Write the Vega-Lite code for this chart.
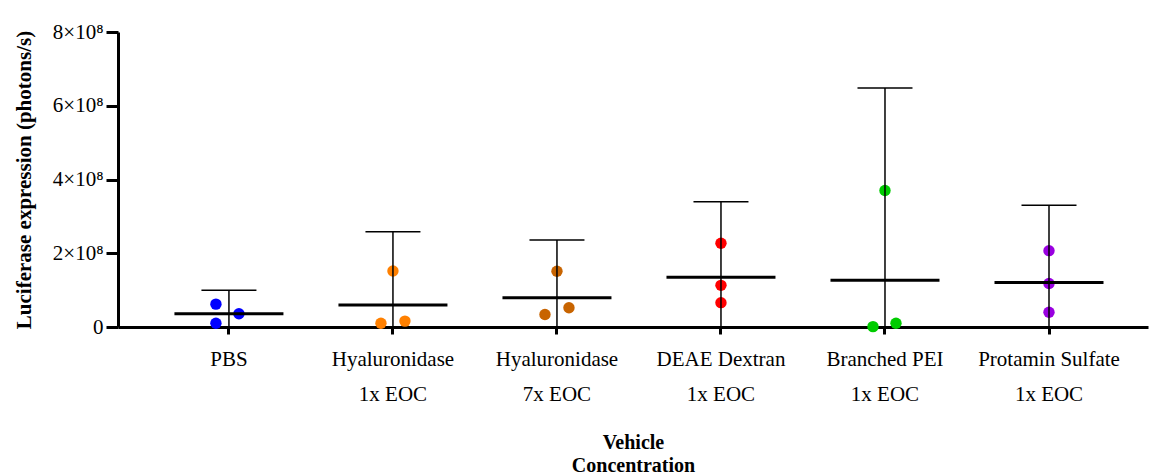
{
  "$schema": "https://vega.github.io/schema/vega-lite/v6.json",
  "width": 1030,
  "height": 295,
  "autosize": "none",
  "padding": {"left": 118, "top": 32, "right": 2, "bottom": 148},
  "background": "white",
  "config": {
    "view": {"stroke": null},
    "font": "Liberation Serif"
  },
  "datasets": {
    "points": [
      {"group": "PBS", "value": 62000000, "jitter": -13},
      {"group": "PBS", "value": 10000000, "jitter": -13},
      {"group": "PBS", "value": 36000000, "jitter": 10},
      {"group": "Hyaluronidase|1x EOC", "value": 10000000, "jitter": -12},
      {"group": "Hyaluronidase|1x EOC", "value": 16000000, "jitter": 12},
      {"group": "Hyaluronidase|1x EOC", "value": 152000000, "jitter": 0},
      {"group": "Hyaluronidase|7x EOC", "value": 151000000, "jitter": 0},
      {"group": "Hyaluronidase|7x EOC", "value": 34000000, "jitter": -12},
      {"group": "Hyaluronidase|7x EOC", "value": 52000000, "jitter": 12},
      {"group": "DEAE Dextran|1x EOC", "value": 227000000, "jitter": 0},
      {"group": "DEAE Dextran|1x EOC", "value": 113000000, "jitter": 0},
      {"group": "DEAE Dextran|1x EOC", "value": 66000000, "jitter": 0},
      {"group": "Branched PEI|1x EOC", "value": 370000000, "jitter": 0},
      {"group": "Branched PEI|1x EOC", "value": 1000000, "jitter": -12},
      {"group": "Branched PEI|1x EOC", "value": 10000000, "jitter": 11},
      {"group": "Protamin Sulfate|1x EOC", "value": 207000000, "jitter": 0},
      {"group": "Protamin Sulfate|1x EOC", "value": 118000000, "jitter": 0},
      {"group": "Protamin Sulfate|1x EOC", "value": 40000000, "jitter": 0}
    ],
    "summary": [
      {"group": "PBS", "mean": 36000000, "upper": 100000000, "lower": -28000000},
      {"group": "Hyaluronidase|1x EOC", "mean": 60000000, "upper": 258000000, "lower": -138000000},
      {"group": "Hyaluronidase|7x EOC", "mean": 79500000, "upper": 236000000, "lower": -77000000},
      {"group": "DEAE Dextran|1x EOC", "mean": 135000000, "upper": 340000000, "lower": -70000000},
      {"group": "Branched PEI|1x EOC", "mean": 127000000, "upper": 648000000, "lower": -394000000},
      {"group": "Protamin Sulfate|1x EOC", "mean": 121000000, "upper": 330000000, "lower": -88000000}
    ]
  },
  "encoding": {
    "x": {
      "field": "group",
      "type": "nominal",
      "sort": null,
      "scale": {
        "type": "band",
        "domain": ["PBS", "Hyaluronidase|1x EOC", "Hyaluronidase|7x EOC", "DEAE Dextran|1x EOC", "Branched PEI|1x EOC", "Protamin Sulfate|1x EOC"],
        "paddingInner": 0,
        "paddingOuter": 0.14,
        "align": 0.63
      },
      "axis": {
        "title": ["Vehicle", "Concentration"],
        "titleFont": "Liberation Serif",
        "titleFontSize": 20,
        "titleFontWeight": "bold",
        "titleLineHeight": 23,
        "titlePadding": 28,
        "titleColor": "black",
        "labelExpr": "split(datum.label, '|')",
        "labelFont": "Liberation Serif",
        "labelFontSize": 21,
        "labelLineHeight": 35,
        "labelPadding": 14,
        "labelAngle": 0,
        "labelColor": "black",
        "labelBaseline": "top",
        "domainColor": "black",
        "domainWidth": 3,
        "tickColor": "black",
        "tickWidth": 3,
        "tickSize": 7,
        "grid": false
      }
    }
  },
  "layer": [
    {
      "data": {"name": "points"},
      "mark": {"type": "circle", "size": 130, "opacity": 1},
      "encoding": {
        "y": {
          "field": "value",
          "type": "quantitative",
          "scale": {"domain": [0, 800000000]},
          "axis": {
            "title": "Luciferase expression (photons/s)",
            "titleFont": "Liberation Serif",
            "titleFontSize": 21,
            "titleFontWeight": "bold",
            "titleColor": "black",
            "titlePadding": 18,
            "values": [0, 200000000, 400000000, 600000000, 800000000],
            "labelExpr": "datum.value == 0 ? '0' : (datum.value / 100000000) + '×10⁸'",
            "labelFont": "Liberation Serif",
            "labelFontSize": 21,
            "labelColor": "black",
            "labelPadding": 3,
            "domainColor": "black",
            "domainWidth": 3,
            "tickColor": "black",
            "tickWidth": 3,
            "tickSize": 12,
            "grid": false
          }
        },
        "xOffset": {
          "field": "jitter",
          "type": "quantitative",
          "scale": {"domain": [-82, 82], "range": [0, 164]}
        },
        "color": {
          "field": "group",
          "type": "nominal",
          "scale": {
            "domain": ["PBS", "Hyaluronidase|1x EOC", "Hyaluronidase|7x EOC", "DEAE Dextran|1x EOC", "Branched PEI|1x EOC", "Protamin Sulfate|1x EOC"],
            "range": ["#0000FF", "#FF8000", "#C86400", "#FF0000", "#00CC00", "#9900E0"]
          },
          "legend": null
        }
      }
    },
    {
      "data": {"name": "summary"},
      "mark": {"type": "rule", "color": "black", "strokeWidth": 1.5, "clip": true},
      "encoding": {
        "y": {"field": "lower", "type": "quantitative"},
        "y2": {"field": "upper"}
      }
    },
    {
      "data": {"name": "summary"},
      "mark": {"type": "tick", "orient": "horizontal", "color": "black", "size": 55, "thickness": 1.5, "opacity": 1},
      "encoding": {
        "y": {"field": "upper", "type": "quantitative"}
      }
    },
    {
      "data": {"name": "summary"},
      "mark": {"type": "tick", "orient": "horizontal", "color": "black", "size": 109, "thickness": 3, "opacity": 1},
      "encoding": {
        "y": {"field": "mean", "type": "quantitative"}
      }
    }
  ]
}
